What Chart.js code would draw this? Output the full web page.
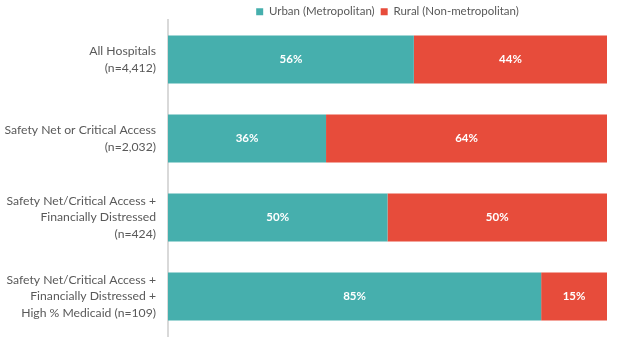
<!DOCTYPE html>
<html>
<head>
<meta charset="utf-8">
<script src="https://cdn.jsdelivr.net/npm/chart.js@4/dist/chart.umd.min.js"></script>
<style>
  html, body { margin: 0; padding: 0; background: #ffffff; }
  #wrap { width: 621px; height: 338px; }
</style>
</head>
<body>
<div id="wrap"><canvas id="c" width="621" height="338"></canvas></div>
<script>
// Hospital groups (multi-line category labels)
const categories = [
  ["All Hospitals", "(n=4,412)"],
  ["Safety Net or Critical Access", "(n=2,032)"],
  ["Safety Net/Critical Access +", "Financially Distressed", "(n=424)"],
  ["Safety Net/Critical Access +", "Financially Distressed +", "High % Medicaid (n=109)"]
];
// Share of hospitals in each group, percent
const urbanShare = [56, 36, 50, 85];
const ruralShare = [44, 64, 50, 15];
const seriesNames = ["Urban (Metropolitan)", "Rural (Non-metropolitan)"];

const FONT = "Lato, 'Open Sans', sans-serif";
const LEGEND_HEIGHT = 20;

// Writes the percentage in the middle of each bar segment
const segmentLabels = {
  id: "segmentLabels",
  afterDatasetsDraw(chart) {
    const ctx = chart.ctx;
    ctx.save();
    ctx.fillStyle = "#ffffff";
    ctx.font = "bold 11.5px " + FONT;
    ctx.textAlign = "center";
    ctx.textBaseline = "middle";
    chart.data.datasets.forEach((ds, i) => {
      chart.getDatasetMeta(i).data.forEach((bar, j) => {
        const p = bar.getProps(["x", "y", "base"], true);
        ctx.fillText(ds.data[j] + "%", (p.x + p.base) / 2, p.y);
      });
    });
    ctx.restore();
  }
};

// Keeps the legend strip compact so the plot starts right below it
const compactLegend = {
  id: "compactLegend",
  beforeLayout(chart) {
    const lg = chart.legend;
    if (lg && !lg._compact) {
      const fit = lg.fit.bind(lg);
      lg.fit = function () { fit(); this.height = LEGEND_HEIGHT; };
      lg._compact = true;
    }
  }
};

new Chart(document.getElementById("c"), {
  type: "bar",
  data: {
    labels: categories,
    datasets: [
      { label: seriesNames[0], data: urbanShare, backgroundColor: "#46AFAD", borderWidth: 0 },
      { label: seriesNames[1], data: ruralShare, backgroundColor: "#E74C3B", borderWidth: 0 }
    ]
  },
  options: {
    indexAxis: "y",
    responsive: false,
    animation: false,
    layout: { padding: { top: 0, right: 14, bottom: 2, left: 0 } },
    categoryPercentage: 0.61,
    barPercentage: 1,
    scales: {
      x: { stacked: true, min: 0, max: 100, display: false },
      y: {
        stacked: true,
        grid: { display: false, drawTicks: false },
        border: { display: true, color: "#D9D9D9", width: 2 },
        ticks: {
          color: "#595959",
          padding: 12,
          font: { family: FONT, size: 12.2, lineHeight: 1.38 }
        },
        afterFit(scale) {
          scale.width = 168;
          scale.paddingTop = 0;
          scale.paddingBottom = 0;
        }
      }
    },
    plugins: {
      legend: {
        position: "top",
        fullSize: false,
        labels: {
          boxWidth: 7,
          boxHeight: 7,
          padding: 6,
          color: "#595959",
          font: { family: FONT, size: 11.5 }
        }
      },
      tooltip: { enabled: false }
    }
  },
  plugins: [segmentLabels, compactLegend]
});
</script>
</body>
</html>
